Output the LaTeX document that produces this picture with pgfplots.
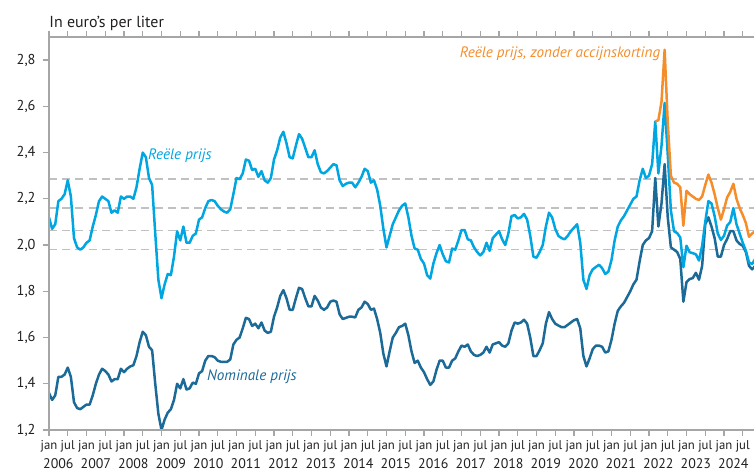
\documentclass[border=0pt]{standalone}
\usepackage{fontspec}
\setmainfont{PT Sans}
\usepackage{pgfplots}
\usepackage{pgfplotstable}
\pgfplotsset{compat=1.18}
\definecolor{lblue}{RGB}{0,166,226}
\definecolor{dblue}{RGB}{28,106,152}
\definecolor{oranj}{RGB}{244,141,42}
\definecolor{axgray}{RGB}{166,166,166}
\definecolor{dashgray}{RGB}{192,192,192}
\definecolor{txt}{RGB}{35,31,32}
\pgfplotstableread{
m R N
0 2.12 1.36
1 2.07 1.33
2 2.09 1.35
3 2.19 1.43
4 2.20 1.43
5 2.22 1.44
6 2.28 1.47
7 2.21 1.43
8 2.03 1.32
9 1.99 1.295
10 1.98 1.29
11 1.99 1.30
12 2.01 1.31
13 2.02 1.31
14 2.08 1.35
15 2.13 1.40
16 2.19 1.44
17 2.21 1.465
18 2.20 1.455
19 2.19 1.44
20 2.14 1.41
21 2.15 1.42
22 2.14 1.42
23 2.21 1.465
24 2.20 1.45
25 2.21 1.465
26 2.21 1.475
27 2.20 1.48
28 2.25 1.52
29 2.33 1.58
30 2.40 1.625
31 2.38 1.61
32 2.29 1.56
33 2.26 1.545
34 2.05 1.40
35 1.85 1.27
36 1.77 1.20
37 1.83 1.245
38 1.875 1.275
39 1.87 1.29
40 1.95 1.33
41 2.06 1.40
42 2.02 1.38
43 2.08 1.42
44 2.01 1.375
45 2.01 1.38
46 2.04 1.405
47 2.05 1.40
48 2.11 1.445
49 2.12 1.455
50 2.16 1.50
51 2.19 1.52
52 2.195 1.52
53 2.19 1.515
54 2.17 1.50
55 2.155 1.495
56 2.145 1.495
57 2.14 1.495
58 2.155 1.505
59 2.22 1.57
60 2.29 1.59
61 2.285 1.60
62 2.31 1.64
63 2.37 1.685
64 2.365 1.68
65 2.325 1.65
66 2.33 1.66
67 2.295 1.64
68 2.32 1.665
69 2.28 1.63
70 2.27 1.62
71 2.29 1.625
72 2.37 1.69
73 2.41 1.73
74 2.465 1.78
75 2.49 1.805
76 2.44 1.77
77 2.38 1.72
78 2.375 1.72
79 2.43 1.77
80 2.48 1.815
81 2.46 1.81
82 2.42 1.77
83 2.38 1.735
84 2.38 1.735
85 2.41 1.78
86 2.35 1.76
87 2.315 1.73
88 2.31 1.72
89 2.32 1.73
90 2.335 1.755
91 2.35 1.76
92 2.345 1.755
93 2.28 1.70
94 2.255 1.68
95 2.265 1.685
96 2.27 1.69
97 2.27 1.69
98 2.25 1.687
99 2.27 1.72
100 2.295 1.73
101 2.33 1.755
102 2.32 1.745
103 2.27 1.72
104 2.28 1.725
105 2.24 1.68
106 2.17 1.62
107 2.07 1.53
108 1.99 1.475
109 2.04 1.54
110 2.09 1.60
111 2.12 1.62
112 2.15 1.645
113 2.17 1.65
114 2.18 1.66
115 2.12 1.61
116 2.04 1.54
117 1.985 1.49
118 1.98 1.50
119 1.94 1.47
120 1.92 1.45
121 1.87 1.42
122 1.855 1.395
123 1.92 1.41
124 1.965 1.46
125 2.00 1.50
126 1.96 1.50
127 1.93 1.47
128 1.925 1.47
129 1.985 1.50
130 1.98 1.51
131 2.02 1.54
132 2.065 1.565
133 2.065 1.56
134 2.025 1.57
135 2.02 1.54
136 1.99 1.525
137 1.97 1.52
138 1.955 1.525
139 1.97 1.535
140 2.01 1.56
141 1.975 1.535
142 2.03 1.57
143 2.045 1.575
144 2.06 1.58
145 2.025 1.565
146 2.00 1.56
147 2.05 1.575
148 2.125 1.63
149 2.13 1.665
150 2.115 1.66
151 2.12 1.665
152 2.135 1.677
153 2.11 1.66
154 2.04 1.60
155 1.95 1.52
156 1.945 1.52
157 1.97 1.545
158 2.00 1.575
159 2.08 1.66
160 2.14 1.71
161 2.12 1.68
162 2.07 1.66
163 2.04 1.652
164 2.03 1.645
165 2.025 1.645
166 2.04 1.655
167 2.06 1.665
168 2.075 1.675
169 2.09 1.68
170 2.01 1.64
171 1.85 1.52
172 1.81 1.475
173 1.87 1.51
174 1.895 1.55
175 1.905 1.565
176 1.915 1.565
177 1.90 1.56
178 1.875 1.535
179 1.885 1.54
180 1.935 1.59
181 2.02 1.66
182 2.08 1.715
183 2.107 1.735
184 2.125 1.75
185 2.15 1.775
186 2.175 1.80
187 2.20 1.83
188 2.21 1.85
189 2.28 1.93
190 2.33 2.00
191 2.29 2.02
192 2.30 2.03
193 2.35 2.06
194 2.535 2.29
195 2.31 2.08
196 2.43 2.18
197 2.615 2.35
198 2.39 2.12
199 2.15 1.99
200 2.06 1.98
201 2.052 1.97
202 2.033 1.94
203 1.904 1.755
204 1.997 1.84
205 1.969 1.853
206 1.965 1.857
207 1.96 1.88
208 1.933 1.85
209 1.997 1.91
210 2.10 2.09
211 2.19 2.12
212 2.18 2.08
213 2.125 2.03
214 2.05 1.95
215 2.022 1.95
216 2.04 2.00
217 2.084 2.026
218 2.10 2.06
219 2.16 2.06
220 2.09 2.02
221 2.05 2.005
222 2.01 1.997
223 1.975 1.97
224 1.925 1.91
225 1.918 1.895
226 1.94 1.91
}\maindata
\pgfplotstableread{
m O
194 2.535
195 2.54
196 2.62
197 2.845
198 2.53
199 2.30
200 2.27
201 2.265
202 2.25
203 2.084
204 2.235
205 2.22
206 2.21
207 2.20
208 2.195
209 2.21
210 2.26
211 2.305
212 2.27
213 2.22
214 2.16
215 2.11
216 2.155
217 2.206
218 2.23
219 2.265
220 2.20
221 2.16
222 2.13
223 2.095
224 2.036
225 2.05
226 2.06
}\orangedata
\begin{document}
\begin{tikzpicture}
\begin{axis}[
  name=ax,
  scale only axis,
  width=352.5bp, height=196.5bp,
  xmin=0, xmax=225.6, ymin=1.2, ymax=2.9,
  axis line style={draw=none},
  tick align=outside,
  major tick length=3.2bp,
  tick style={color=axgray, line width=0.65bp},
  xtick={0,6,...,222},
  xticklabels={jan,jul,jan,jul,jan,jul,jan,jul,jan,jul,jan,jul,jan,jul,jan,jul,jan,jul,jan,jul,jan,jul,jan,jul,jan,jul,jan,jul,jan,jul,jan,jul,jan,jul,jan,jul,jan,jul},
  xticklabel style={font=\fontsize{6.4}{7}\selectfont, text=txt, anchor=base, yshift=-6.5bp},
  extra x ticks={3,15,27,39,51,63,75,87,99,111,123,135,147,159,171,183,195,207,219},
  extra x tick labels={2006,2007,2008,2009,2010,2011,2012,2013,2014,2015,2016,2017,2018,2019,2020,2021,2022,2023,2024},
  extra x tick style={major tick length=0pt, xticklabel style={font=\fontsize{7}{8}\selectfont, text=txt, anchor=base, yshift=-12.6bp}},
  ytick={1.2,1.4,1.6,1.8,2.0,2.2,2.4,2.6,2.8},
  yticklabel style={font=\fontsize{7.2}{8}\selectfont, text=txt, /pgf/number format/.cd, use comma, fixed, precision=1, fixed zerofill, assume math mode=true},
  line join=round,
]
\addplot[dashgray, line width=0.7bp, dash pattern=on 4bp off 2.6bp] coordinates {(0,2.285) (226,2.285)};
\addplot[dashgray, line width=0.7bp, dash pattern=on 4bp off 2.6bp] coordinates {(0,2.16) (226,2.16)};
\addplot[dashgray, line width=0.7bp, dash pattern=on 4bp off 2.6bp] coordinates {(0,2.062) (226,2.062)};
\addplot[dashgray, line width=0.7bp, dash pattern=on 4bp off 2.6bp] coordinates {(0,1.982) (226,1.982)};
\addplot[dblue, line width=1.25bp] table[x=m, y=N] {\maindata};
\addplot[lblue, line width=1.25bp] table[x=m, y=R] {\maindata};
\addplot[oranj, line width=1.25bp] table[x=m, y=O] {\orangedata};
\node[anchor=west, text=lblue, font=\itshape\fontsize{7.6}{9}\selectfont, inner sep=0pt] at (axis cs:31.6,2.387) {Reële prijs};
\node[anchor=west, text=dblue, font=\itshape\fontsize{7.6}{9}\selectfont, inner sep=0pt] at (axis cs:50.5,1.429) {Nominale prijs};
\node[anchor=east, text=oranj, font=\itshape\fontsize{7.6}{9}\selectfont, inner sep=0pt] at (axis cs:195.7,2.828) {Reële prijs, zonder accijnskorting};
\end{axis}
\draw[axgray, line width=0.65bp] (ax.north east) -- (ax.north west) -- (ax.south west) -- (ax.south east);
\node[anchor=base west, text=txt, font=\fontsize{8}{9}\selectfont, inner sep=0pt] at ([yshift=5bp]ax.north west) {In euro’s per liter};
\pgfresetboundingbox
\path ([shift={(-24.5bp,-21bp)}]ax.south west) rectangle ([shift={(0bp,18.5bp)}]ax.north east);
\end{tikzpicture}
\end{document}
